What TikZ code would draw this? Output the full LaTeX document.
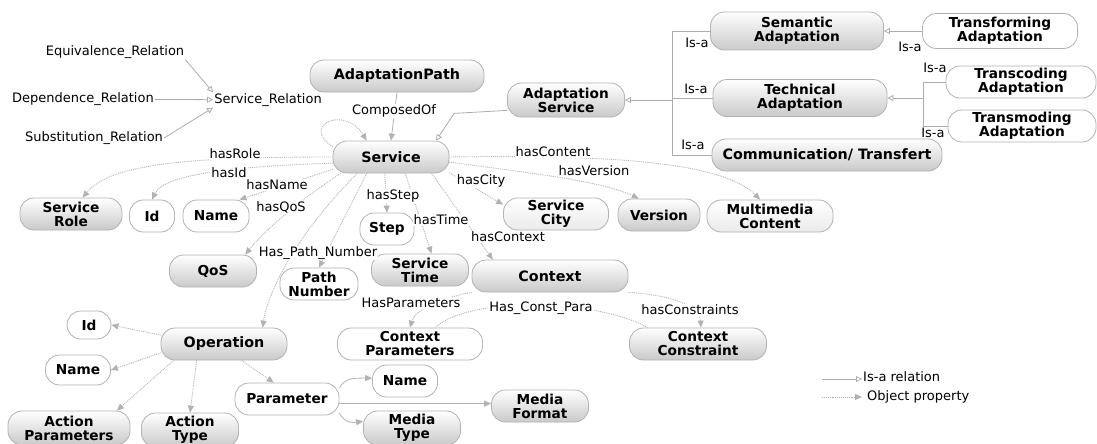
\documentclass[tikz,border=0pt]{standalone}
\usepackage{fontspec}
\setmainfont{DejaVu Sans}
\usetikzlibrary{arrows.meta,backgrounds}
\newcommand{\lblfont}{\fontsize{13}{14}\selectfont}
\newcommand{\clsfont}{\fontsize{13.7}{14}\selectfont\bfseries}
\newcommand{\bigclsfont}{\fontsize{14.3}{15}\selectfont\bfseries}
\tikzset{
  cls/.style={draw=gray!60, line width=0.8pt, rounded corners=14pt, inner sep=0pt, align=center, font=\clsfont, minimum height=32pt},
  shd/.style={cls, top color=white, middle color=gray!8, bottom color=gray!42},
  lite/.style={cls, top color=white, bottom color=gray!16},
  wht/.style={cls, fill=white},
  lbl/.style={font=\lblfont, inner sep=1pt, fill=white},
  prop/.style={draw=gray!60, line width=0.9pt, densely dotted, -{Triangle[length=7pt,width=6pt]}},
  propline/.style={draw=gray!60, line width=0.9pt, densely dotted},
  rel/.style={draw=gray!60, line width=0.8pt, -{Triangle[length=7pt,width=6pt]}},
  isa/.style={draw=gray!65, line width=0.8pt, -{Triangle[open,length=6pt,width=6pt]}},
  isaline/.style={draw=gray!65, line width=0.8pt}
}
\begin{document}
\begin{tikzpicture}[x=1pt,y=-1pt]
	\useasboundingbox (0,0) rectangle (1097,444);

	\node[shd, font=\bigclsfont, minimum width=174pt] (apath) at (397,76) {AdaptationPath};
	\node[shd, minimum width=117pt, minimum height=34pt] (aserv) at (566,100) {Adaptation\\Service};
	\node[shd, minimum width=173pt, minimum height=38pt] (sem) at (797,31) {Semantic\\Adaptation};
	\node[wht, minimum width=155pt, minimum height=35pt] (transf) at (1000,31) {Transforming\\Adaptation};
	\node[shd, minimum width=174pt, minimum height=37pt] (tech) at (800,98) {Technical\\Adaptation};
	\node[wht, minimum width=150pt] (transc) at (1021,82) {Transcoding\\Adaptation};
	\node[wht, minimum width=148pt] (transm) at (1022,126) {Transmoding\\Adaptation};
	\node[shd, font=\bigclsfont, minimum width=230pt] (comm) at (827,155) {Communication/ Transfert};

	\node[shd, font=\bigclsfont, minimum width=116pt] (serv) at (391,157) {Service};
	\node[shd, minimum width=102pt] (srole) at (71,214) {Service\\Role};
	\node[wht, minimum width=45pt] (sid) at (152,216) {Id};
	\node[wht, minimum width=66pt] (sname) at (216,216) {Name};
	\node[wht, minimum width=54pt] (step) at (387,229) {Step};
	\node[lite, minimum width=105pt] (scity) at (556,214) {Service\\City};
	\node[shd, minimum width=82pt] (version) at (659,215) {Version};
	\node[lite, minimum width=126pt] (mmc) at (770,216) {Multimedia\\Content};
	\node[shd, minimum width=87pt] (qos) at (213,271) {QoS};
	\node[wht, minimum width=78pt] (pnum) at (319,284) {Path\\Number};
	\node[shd, minimum width=97pt] (stime) at (420,270) {Service\\Time};
	\node[shd, font=\bigclsfont, minimum width=156pt] (ctx) at (550,276) {Context};
	\node[wht, minimum width=145pt] (cpar) at (410,344) {Context\\Parameters};
	\node[shd, minimum width=137pt] (ccon) at (698,344) {Context\\Constraint};

	\node[shd, font=\bigclsfont, minimum width=126pt] (op) at (224,344) {Operation};
	\node[wht, minimum width=44pt, minimum height=28pt] (oid) at (89,325) {Id};
	\node[wht, minimum width=65pt, minimum height=30pt] (oname) at (78,370) {Name};
	\node[wht, minimum width=104pt] (param) at (287,399) {Parameter};
	\node[wht, minimum width=65pt] (pname) at (405,381) {Name};
	\node[shd, minimum width=97pt] (mformat) at (540,406) {Media\\Format};
	\node[shd, minimum width=97pt, minimum height=34pt] (mtype) at (412,428) {Media\\Type};
	\node[shd, minimum width=122pt, minimum height=34pt] (apar) at (69,428) {Action\\Parameters};
	\node[shd, minimum width=97pt, minimum height=34pt] (atype) at (190,430) {Action\\Type};

	\node[lbl] (eqv) at (115,52) {Equivalence\_Relation};
	\node[lbl] (dep) at (83,99) {Dependence\_Relation};
	\node[lbl] (subst) at (94,138) {Substitution\_Relation};
	\node[lbl] (srel) at (268,100) {Service\_Relation};

	\node[lbl] (composed) at (394,111) {ComposedOf};
	\node[lbl] (hasrole) at (235,154) {hasRole};
	\node[lbl] (hasid) at (229,173) {hasId};
	\node[lbl] (hasname) at (277,185) {hasName};
	\node[lbl] (hasqos) at (281,207) {hasQoS};
	\node[lbl] (haspath) at (318,253) {Has\_Path\_Number};
	\node[lbl] (hasstep) at (393,196) {hasStep};
	\node[lbl] (hastime) at (441,220) {hasTime};
	\node[lbl] (hascontext) at (508,237) {hasContext};
	\node[lbl] (hascity) at (481,181) {hasCity};
	\node[lbl] (hasversion) at (594,171) {hasVersion};
	\node[lbl] (hascontent) at (553,152) {hasContent};
	\node[lbl] (hasparams) at (411,303) {HasParameters};
	\node[lbl] (hasconst) at (541,308) {Has\_Const\_Para};
	\node[lbl] (hasconstr) at (690,310) {hasConstraints};

	\node[lbl, fill=none] (isasem) at (697,43) {Is-a};
	\node[lbl, fill=none] (isatech) at (696,89) {Is-a};
	\node[lbl, fill=none] (isacomm) at (693,145) {Is-a};
	\node[lbl, fill=none] (isatransf) at (910,47) {Is-a};
	\node[lbl, fill=none] (isatransc) at (935,68) {Is-a};
	\node[lbl, fill=none] (isatransm) at (933,133) {Is-a};

	\node[lbl, fill=none, anchor=west] (lgisa) at (862,377) {Is-a relation};
	\node[lbl, fill=none, anchor=west] (lgprop) at (866,397) {Object property};
	\coordinate (lgA) at (822,379);
	\coordinate (lgB) at (822,397);
	\coordinate (isaA) at (672,100);
	\coordinate (isaB) at (923,98);

	\begin{scope}[on background layer]
	\draw[isa] (eqv.south east) -- (srel.north west);
	\draw[isa] (dep) -- (srel);
	\draw[isa] (subst.east) -- (srel.south west);

	\draw[isa] (isaA) -- (aserv.east);
	\draw[isaline] (sem.west) -| (isaA);
	\draw[isaline] (comm.west) -| (isaA);
	\draw[isaline] (tech.west) -- (tech.west -| isaA);
	\draw[isa] (transf.west) -- (sem.east);
	\draw[isa] (isaB) -- (tech.east);
	\draw[isaline] (transc.west) -| (isaB);
	\draw[isaline] (transm.west) -| (isaB);
	\draw[isa] (aserv.190) -- ++(-53,3) -- (serv.20);

	\draw[rel] (apath.south) -- (serv.north);
	\draw[prop] (serv.170) .. controls (300,125) and (345,105) .. (serv.146);
	\draw[prop] (serv.west) .. controls (180,157) and (110,165) .. (srole.55);
	\draw[prop] (serv.186) .. controls (250,166) and (165,172) .. (sid.north);
	\draw[prop] (serv.192) -- (sname.35);
	\draw[prop] (serv.198) .. controls (300,200) and (265,230) .. (qos.27);
	\draw[prop] (serv.206) .. controls (300,230) and (268,290) .. (op.23);
	\draw[prop] (serv.214) -- (pnum.north);
	\draw[prop] (serv.249) -- (step.north);
	\draw[prop] (serv.-49) -- (stime.55);
	\draw[prop] (serv.-22) -- (ctx.164);
	\draw[prop] (serv.-15) -- (scity.170);
	\draw[prop] (serv.-5) .. controls (520,172) and (600,180) .. (version.141);
	\draw[prop] (serv.east) .. controls (600,155) and (720,160) .. (mmc.121);

	\draw[prop] (ctx.south west) .. controls (440,298) and (415,310) .. (cpar.north);
	\draw[propline] (ccon.162) .. controls (600,300) and (470,295) .. (cpar.33);
	\draw[prop] (ctx.south east) .. controls (670,295) and (700,305) .. (ccon.80);

	\draw[prop] (op.172) -- (oid.east);
	\draw[prop] (op.188) -- (oname.east);
	\draw[prop] (op.198) -- (apar.20);
	\draw[prop] (op.211) -- (atype.north);
	\draw[prop] (op.-43) -- (param.129);

	\draw[rel] (param.12) .. controls (345,379) and (350,378) .. (pname.175);
	\draw[rel] (param.-5) -- (param.-5 -| mformat.west);
	\draw[rel] (param.-15) .. controls (345,423) and (352,423) .. (mtype.172);

	\draw[isa] (lgA) -- (lgisa.west |- lgA);
	\draw[prop] (lgB) -- ([xshift=-4pt]lgprop.west);
	\end{scope}
\end{tikzpicture}
\end{document}
